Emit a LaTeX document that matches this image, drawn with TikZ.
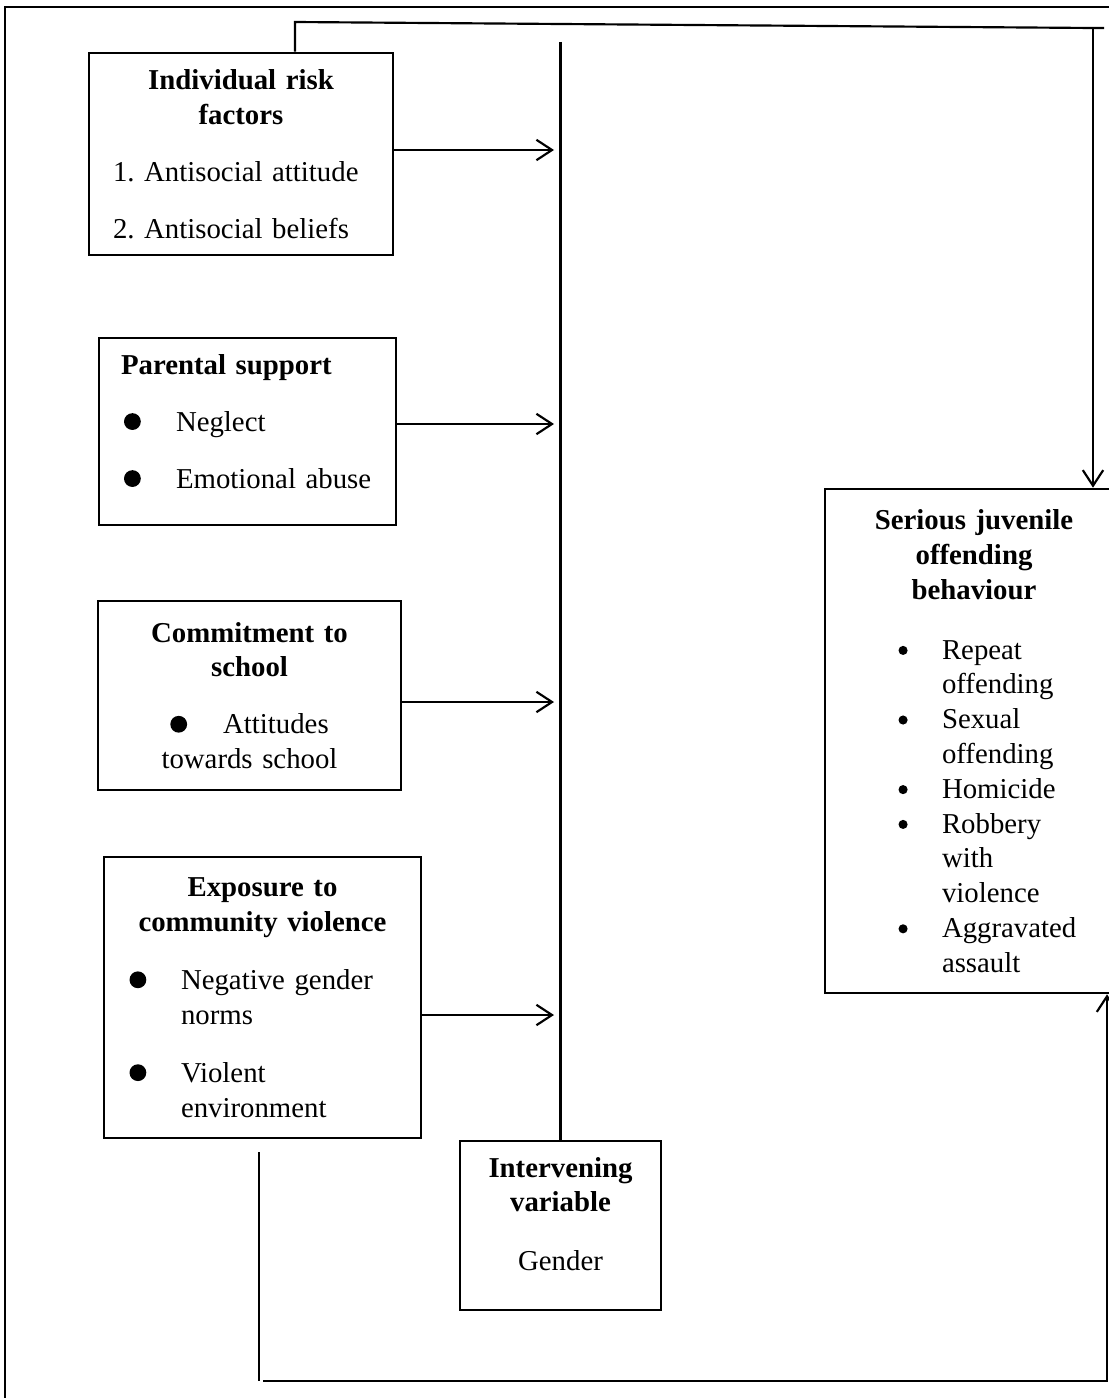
\documentclass[tikz,border=0pt,12pt]{standalone}
\usepackage{fontspec}
\setmainfont{Liberation Serif}
\usetikzlibrary{arrows.meta}
\frenchspacing
\newlength\px \setlength\px{0.41667pt}
\newcommand\bigdot{\tikz[baseline=-4pt]\fill (0,0) circle (3.5pt);}
\newcommand\smalldot{\tikz[baseline=-3.6pt]\fill (0,0) circle (1.9pt);}
\newcommand\dotat[3]{\makebox[#2\px][l]{\hspace*{#1\px}#3}}
\newcommand\hang[1]{\hspace*{#1\px}}
\begin{document}
\begin{tikzpicture}[x=0.41667pt, y=-0.41667pt,
  box/.style 2 args={draw, line width=1.1pt, inner sep=0pt, text width=#1, minimum width=#1, minimum height=#2},
  wire/.style={line width=0.9pt},
  arr/.style={wire, -{Straight Barb[length=6.5pt,width=8.5pt]}}]
 \useasboundingbox (0,0) rectangle (1108,1398);
 \draw[line width=0.8pt] (5,7) rectangle (1125,1420);
 % left column
 \node[box={126.67pt}{84.17pt}] (irf) at (241,154) {\centering\bfseries Individual risk\\factors\par
   \vspace{9.25pt}\raggedright\mdseries
   \hang{24}1. Antisocial attitude\par\vspace{9.25pt}
   \hang{24}2. Antisocial beliefs\par};
 \node[box={123.75pt}{77.92pt}] (ps) at (247.5,431.5) {\raggedright
   \hang{22}\textbf{Parental support}\par\vspace{9.25pt}
   \dotat{25}{77}{\bigdot}Neglect\par\vspace{9.25pt}
   \dotat{25}{77}{\bigdot}Emotional abuse\rule[-8.6pt]{0pt}{8.6pt}\par};
 \node[box={126.25pt}{78.75pt}] (cts) at (249.5,695.5) {\centering
   \textbf{Commitment to}\\\textbf{school}\par\vspace{9.25pt}
   \bigdot\hspace{15pt}Attitudes\\towards school\par};
 \node[box={132.08pt}{117.08pt}] (ecv) at (262.5,997.5) {\centering
   \textbf{Exposure to}\\\textbf{community violence}\par\vspace{9.7pt}\raggedright
   \dotat{25.5}{77}{\bigdot}Negative gender\\\hang{77}norms\par\vspace{9.7pt}
   \dotat{25.5}{77}{\bigdot}Violent\\\hang{77}environment\par};
 % middle and right
 \node[box={83.75pt}{70.42pt}] (iv) at (560.5,1225.5) {\centering
   \textbf{Intervening}\\\textbf{variable}\par\vspace{9.7pt}
   Gender\rule[-9.9pt]{0pt}{9.9pt}\par};
 \node[box={124.17pt}{210pt}] (sjob) at (974,741) {\centering
   \textbf{Serious juvenile}\\\textbf{offending}\\\textbf{behaviour}\par\vspace{10.5pt}\raggedright
   \dotat{73.5}{117}{\smalldot}Repeat\\\hang{117}offending\\
   \dotat{73.5}{117}{\smalldot}Sexual\\\hang{117}offending\\
   \dotat{73.5}{117}{\smalldot}Homicide\\
   \dotat{73.5}{117}{\smalldot}Robbery\\\hang{117}with\\\hang{117}violence\\
   \dotat{73.5}{117}{\smalldot}Aggravated\\\hang{117}assault\par};
 % vertical bar and arrows into it
 \coordinate (bartop) at (560,42);
 \draw[wire] (iv.north |- bartop) -- (iv.north);
 \foreach \b/\y in {irf/150, ps/424, cts/702, ecv/1015}
  {\coordinate (\b-in) at (554,\y);
   \draw[arr] (\b.east |- \b-in) -- (\b-in);};
 % feedback lines
 \coordinate (fbl) at (295,22);
 \coordinate (fbr) at (1093,28);
 \draw[wire] (irf.north -| fbl) -- (fbl) -- (fbr) -- ++(11,0);
 \draw[arr] (fbr) -- (fbr |- sjob.north);
 \coordinate (fbb) at (259,1152);
 \coordinate (fbd) at (263,1381);
 \coordinate (fbc) at (1107,1381);
 \draw[wire] (fbb) -- (fbb |- fbc);
 \draw[arr] (fbd) -- (fbc) -- (fbc |- sjob.south);
\end{tikzpicture}
\end{document}
